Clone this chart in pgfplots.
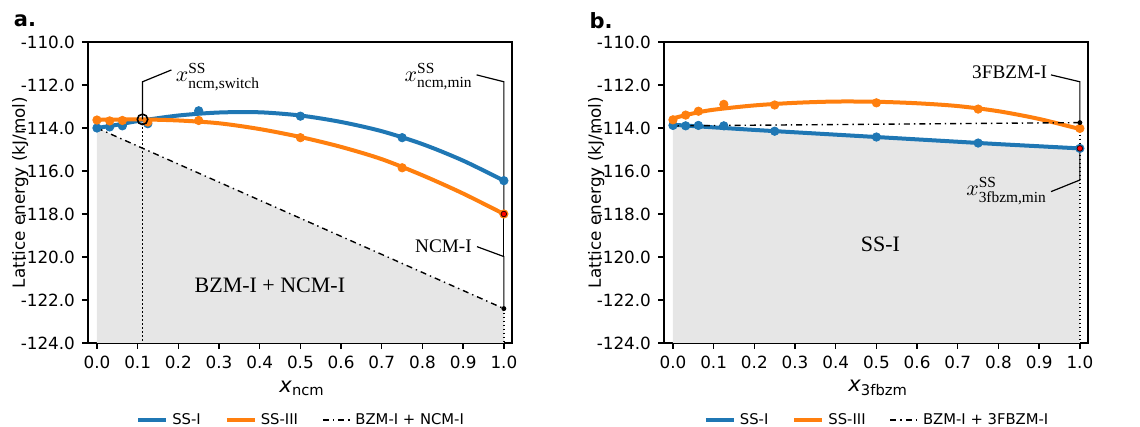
\documentclass[border=0pt]{standalone}
\usepackage{amsmath}
\usepackage{fontspec}
\setmainfont{DejaVu Sans}
\newfontfamily\seriffont{Liberation Serif}
\usepackage{pgfplots}
\pgfplotsset{compat=1.18}
\definecolor{ssone}{HTML}{1F77B4}
\definecolor{ssthree}{HTML}{FF7F0E}
\definecolor{hullgray}{HTML}{E6E6E6}
\newcommand{\ssx}[1]{$x^{\text{\seriffont SS}}_{\text{\seriffont #1}}$}

\pgfplotsset{
  panel/.style={
    scale only axis, width=212pt, height=150.5pt,
    xmin=-0.022, xmax=1.02, ymin=-124, ymax=-110,
    xtick={0,0.1,0.2,0.3,0.4,0.5,0.6,0.7,0.8,0.9,1},
    ytick={-124,-122,-120,-118,-116,-114,-112,-110},
    tick align=outside, xtick pos=bottom, ytick pos=left,
    major tick length=3pt,
    every tick/.style={black, line width=0.7pt},
    axis line style={line width=1.2pt},
    tick label style={font=\fontsize{8.4}{10}\selectfont},
    /pgf/number format/.cd, fixed, fixed zerofill, precision=1, assume math mode=true,
    /pgfplots/.cd,
    ylabel={Lattice energy (kJ/mol)},
    ylabel style={at={(axis description cs:-0.16,0.5)}, anchor=center, rotate=0, font=\fontsize{8.4}{10}\selectfont},
    xlabel style={at={(axis description cs:0.505,-0.15)}, anchor=center, font=\fontsize{10.5}{12}\selectfont},
    legend style={at={(axis description cs:0.505,-0.256)}, anchor=center, draw=none,
      font=\fontsize{7.4}{9}\selectfont, inner sep=0pt,
      /tikz/every even column/.append style={column sep=10pt}},
    legend columns=3,
    legend image code/.code={\draw[#1] (0pt,0pt) -- (14pt,0pt);},
  },
  fitline/.style={smooth, line width=2pt, no marks},
  datapts/.style={only marks, mark=*, mark size=2.1pt},
}
\tikzset{
  hull/.style={black, line width=0.7pt, dash pattern=on 3pt off 2pt on 0.7pt off 2pt},
  note/.style={black, line width=0.6pt},
  vdot/.style={black, line width=0.8pt, dash pattern=on 0.8pt off 1.2pt},
}

\begin{document}
\begin{tikzpicture}
\useasboundingbox (0,0) rectangle (570pt,213.5pt);

\node[font=\fontsize{10.5}{12}\selectfont\bfseries] at (12.5pt,203pt) {a.};
\node[font=\fontsize{10.5}{12}\selectfont\bfseries] at (300.5pt,203pt) {b.};

% ---------- panel a ----------
\begin{axis}[panel, at={(44pt,42pt)}, anchor=south west,
  xlabel={\textit{x}\textsubscript{ncm}}]
  \addplot[fill=hullgray, draw=none, forget plot] coordinates {(0,-114.0) (1,-122.4) (1,-124) (0,-124)};
  \addplot[vdot, forget plot] coordinates {(0.112,-113.6) (0.112,-124)};
  \addplot[vdot, forget plot] coordinates {(1,-122.4) (1,-124)};

  \addplot[ssone, fitline] coordinates {(0,-114.0) (0.05,-113.85) (0.1,-113.68) (0.2,-113.42) (0.3,-113.28) (0.4,-113.27) (0.5,-113.42) (0.6,-113.72) (0.7,-114.15) (0.8,-114.75) (0.9,-115.52) (1,-116.45)};
  \addplot[ssthree, fitline] coordinates {(0,-113.62) (0.1,-113.6) (0.2,-113.65) (0.3,-113.78) (0.4,-114.05) (0.5,-114.42) (0.6,-114.88) (0.7,-115.45) (0.8,-116.2) (0.9,-117.05) (1,-118.0)};
  \addplot[hull] coordinates {(0,-114.0) (1,-122.4)};
  \legend{SS-I, SS-III, BZM-I + NCM-I}

  \addplot[ssone, datapts, forget plot] coordinates {(0,-114.0) (0.03125,-113.95) (0.0625,-113.9) (0.125,-113.8) (0.25,-113.2) (0.5,-113.45) (0.75,-114.45) (1,-116.45)};
  \addplot[ssthree, datapts, forget plot] coordinates {(0,-113.63) (0.03125,-113.67) (0.0625,-113.65) (0.125,-113.72) (0.25,-113.65) (0.5,-114.45) (0.75,-115.85) (1,-118.0)};

  \addplot[only marks, mark=*, mark size=1.4pt, mark options={fill=red, draw=black!80!red, line width=0.4pt}, forget plot] coordinates {(1,-118.0)};
  \addplot[only marks, mark=*, mark size=1pt, black, forget plot] coordinates {(1,-122.4)};
  \addplot[only marks, mark=o, mark size=2.6pt, mark options={draw=black, line width=0.8pt}, forget plot] coordinates {(0.112,-113.6)};

  \draw[note] (axis cs:0.112,-113.6) -- (axis cs:0.112,-111.85) -- (axis cs:0.183,-111.3);
  \node[anchor=base west, inner sep=0pt, font=\fontsize{11}{12}\selectfont] at (axis cs:0.193,-111.85) {\ssx{ncm,switch}};
  \draw[note] (axis cs:1,-118.0) -- (axis cs:1,-111.85) -- (axis cs:0.933,-111.53);
  \node[anchor=base east, inner sep=0pt, font=\fontsize{11}{12}\selectfont] at (axis cs:0.924,-111.85) {\ssx{ncm,min}};
  \draw[note] (axis cs:1,-122.4) -- (axis cs:1,-119.98) -- (axis cs:0.934,-119.52);
  \draw[note] (axis cs:1,-118.0) -- (axis cs:1,-119.98);
  \node[anchor=base east, inner sep=0pt, font=\seriffont\fontsize{9.6}{11}\selectfont] at (axis cs:0.922,-119.8) {NCM-I};
  \node[anchor=base, inner sep=0pt, font=\seriffont\fontsize{11}{13}\selectfont] at (axis cs:0.425,-121.65) {BZM-I + NCM-I};
\end{axis}

% ---------- panel b ----------
\begin{axis}[panel, at={(332pt,42pt)}, anchor=south west,
  xlabel={\textit{x}\textsubscript{3fbzm}}]
  \addplot[fill=hullgray, draw=none, forget plot] coordinates {(0,-113.85) (0.1,-113.97) (0.2,-114.09) (0.3,-114.2) (0.4,-114.31) (0.5,-114.42) (0.6,-114.53) (0.7,-114.64) (0.8,-114.75) (0.9,-114.85) (1,-114.95) (1,-124) (0,-124)};
  \addplot[vdot, forget plot] coordinates {(1,-113.75) (1,-124)};

  \addplot[ssone, fitline] coordinates {(0,-113.85) (0.1,-113.97) (0.2,-114.09) (0.3,-114.2) (0.4,-114.31) (0.5,-114.42) (0.6,-114.53) (0.7,-114.64) (0.8,-114.75) (0.9,-114.85) (1,-114.95)};
  \addplot[ssthree, fitline] coordinates {(0,-113.55) (0.05,-113.32) (0.1,-113.15) (0.2,-112.95) (0.3,-112.83) (0.4,-112.77) (0.5,-112.78) (0.6,-112.85) (0.7,-112.98) (0.8,-113.22) (0.9,-113.58) (1,-114.05)};
  \addplot[hull] coordinates {(0,-113.9) (1,-113.75)};
  \legend{SS-I, SS-III, BZM-I + 3FBZM-I}

  \addplot[ssone, datapts, forget plot] coordinates {(0,-113.88) (0.03125,-113.9) (0.0625,-113.88) (0.125,-113.9) (0.25,-114.15) (0.5,-114.42) (0.75,-114.7) (1,-114.95)};
  \addplot[ssthree, datapts, forget plot] coordinates {(0,-113.62) (0.03125,-113.4) (0.0625,-113.22) (0.125,-112.9) (0.25,-112.93) (0.5,-112.83) (0.75,-113.12) (1,-114.02)};

  \addplot[only marks, mark=*, mark size=1.4pt, mark options={fill=red, draw=black!80!red, line width=0.4pt}, forget plot] coordinates {(1,-114.95)};
  \addplot[only marks, mark=*, mark size=1pt, black, forget plot] coordinates {(1,-113.75)};

  \draw[note] (axis cs:1,-113.75) -- (axis cs:1,-111.85) -- (axis cs:0.929,-111.53);
  \node[anchor=base east, inner sep=0pt, font=\seriffont\fontsize{9.6}{11}\selectfont] at (axis cs:0.92,-111.7) {3FBZM-I};
  \draw[note] (axis cs:1,-114.95) -- (axis cs:1,-116.42) -- (axis cs:0.929,-116.96);
  \node[anchor=base east, inner sep=0pt, font=\fontsize{11}{12}\selectfont] at (axis cs:0.92,-117.15) {\ssx{3fbzm,min}};
  \node[anchor=base, inner sep=0pt, font=\seriffont\fontsize{11}{13}\selectfont] at (axis cs:0.51,-119.75) {SS-I};
\end{axis}
\end{tikzpicture}
\end{document}
